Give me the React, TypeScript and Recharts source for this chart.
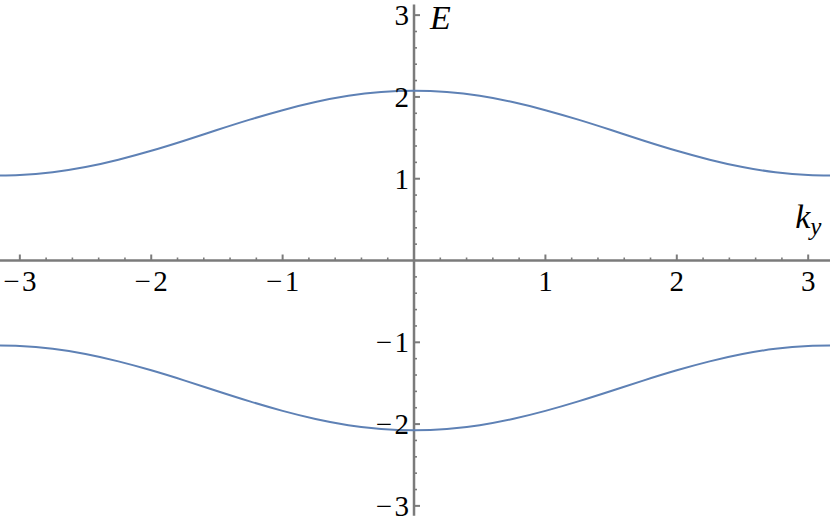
import React from 'react';
import { LineChart, Line, XAxis, YAxis, ReferenceLine, ReferenceDot } from 'recharts';

// k_y sample points and the two bands
const kValues = [-3.2, -3, -2.75, -2.5, -2.25, -2, -1.75, -1.5, -1.25, -1, -0.75, -0.5, -0.25, 0,
    0.25, 0.5, 0.75, 1, 1.25, 1.5, 1.75, 2, 2.25, 2.5, 2.75, 3, 3.2];
const upperBand = [1.04, 1.045, 1.08, 1.143, 1.233, 1.342, 1.465, 1.595, 1.722, 1.838, 1.937, 2.013, 2.06, 2.076,
    2.06, 2.013, 1.937, 1.838, 1.722, 1.595, 1.465, 1.342, 1.233, 1.143, 1.08, 1.045, 1.04];
const lowerBand = [-1.04, -1.045, -1.08, -1.143, -1.233, -1.342, -1.465, -1.595, -1.722, -1.838, -1.937, -2.013, -2.06, -2.076,
    -2.06, -2.013, -1.937, -1.838, -1.722, -1.595, -1.465, -1.342, -1.233, -1.143, -1.08, -1.045, -1.04];

const xTickLabels = [-3, -2, -1, 1, 2, 3];
const yTickLabels = [-3, -2, -1, 1, 2, 3];

const xMinor: number[] = [];
const yMinor: number[] = [];
for (let i = -15; i <= 15; i++) {
    if (i % 5 !== 0) {
        xMinor.push(i / 5);
        yMinor.push(i / 5);
    }
}

const data = kValues.map((k, i) => ({ k, upper: upperBand[i], lower: lowerBand[i] }));

const AXIS = '#7b7b7b';
const CURVE = '#5e81b5';
const SERIF = 'Liberation Serif, Times New Roman, Times, DejaVu Serif, Noto Serif, serif';

const fmt = (v: number) => (v < 0 ? `\u2212\u200a${Math.abs(v)}` : `${v}`);

const xTick = (major: boolean, label?: string) => (p: any) => (
    <g>
        <line x1={p.cx} x2={p.cx} y1={p.cy} y2={p.cy - (major ? 6 : 3)} stroke={AXIS} strokeWidth={major ? 2 : 1.6} />
        {label && (
            <text x={p.cx} y={p.cy + 30} textAnchor="middle" fontFamily={SERIF} fontSize={29} fill="#000">
                {label}
            </text>
        )}
    </g>
);

const yTick = (major: boolean, label?: string) => (p: any) => (
    <g>
        <line x1={p.cx} x2={p.cx + (major ? 6 : 3)} y1={p.cy} y2={p.cy} stroke={AXIS} strokeWidth={major ? 2 : 1.6} />
        {label && (
            <text x={p.cx - 5} y={p.cy + 10} textAnchor="end" fontFamily={SERIF} fontSize={29} fill="#000">
                {label}
            </text>
        )}
    </g>
);

const App: React.FC = () => {
    return (
        <div style={{ position: 'absolute', left: 0, top: 0, width: 830, height: 522, background: '#fff', fontFamily: SERIF }}>
            <LineChart width={830} height={522} data={data} margin={{ top: 0, right: 0, bottom: 0, left: 0 }}>
                <XAxis dataKey="k" type="number" domain={[-3.151, 3.166]} allowDataOverflow hide />
                <YAxis type="number" domain={[-3.197, 3.185]} allowDataOverflow hide />

                <ReferenceLine y={0} stroke={AXIS} strokeWidth={2.5} />
                <ReferenceLine segment={[{ x: 0, y: -3.12 }, { x: 0, y: 3.13 }]} stroke={AXIS} strokeWidth={2.5} />

                {xMinor.map((v) => (
                    <ReferenceDot key={`xm${v}`} x={v} y={0} r={0} shape={xTick(false)} />
                ))}
                {yMinor.map((v) => (
                    <ReferenceDot key={`ym${v}`} x={0} y={v} r={0} shape={yTick(false)} />
                ))}
                {xTickLabels.map((v) => (
                    <ReferenceDot key={`x${v}`} x={v} y={0} r={0} shape={xTick(true, fmt(v))} />
                ))}
                {yTickLabels.map((v) => (
                    <ReferenceDot key={`y${v}`} x={0} y={v} r={0} shape={yTick(true, fmt(v))} />
                ))}

                <Line type="natural" dataKey="upper" stroke={CURVE} strokeWidth={2} dot={false} activeDot={false} isAnimationActive={false} />
                <Line type="natural" dataKey="lower" stroke={CURVE} strokeWidth={2} dot={false} activeDot={false} isAnimationActive={false} />

                <ReferenceDot
                    x={0}
                    y={3}
                    r={0}
                    shape={(p: any) => (
                        <text x={p.cx + 16} y={p.cy + 14} fontFamily={SERIF} fontStyle="italic" fontSize={34} fill="#000">
                            E
                        </text>
                    )}
                />
                <ReferenceDot
                    x={3}
                    y={0}
                    r={0}
                    shape={(p: any) => (
                        <text x={p.cx - 13} y={p.cy - 33} fontFamily={SERIF} fontStyle="italic" fontSize={34} fill="#000">
                            k
                            <tspan fontSize={25} dy={7}>y</tspan>
                        </text>
                    )}
                />
            </LineChart>
        </div>
    );
};

export default App;
